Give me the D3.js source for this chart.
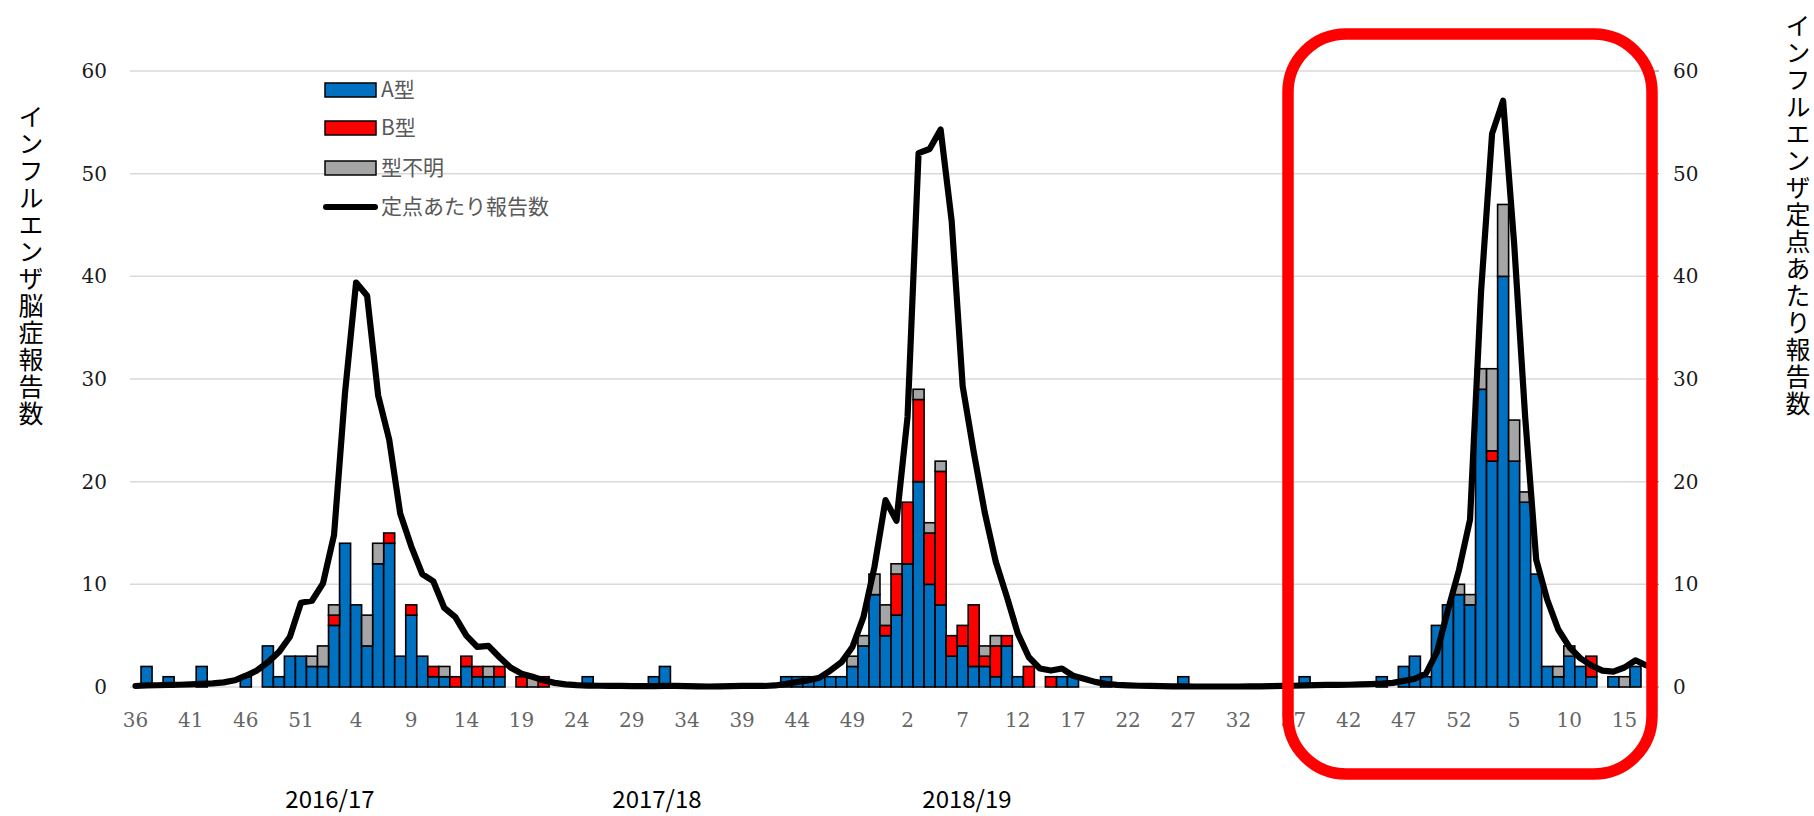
<!DOCTYPE html>
<html>
<head>
<meta charset="utf-8">
<script src="https://cdn.jsdelivr.net/npm/d3@7"></script>
<style>
  html, body { margin: 0; padding: 0; background: #fff; }
  svg { display: block; }
</style>
</head>
<body>
<svg id="chart" width="1814" height="816"></svg>
<script>
// week numbers, 2016 wk36 .. 2019 wk17
var weeks = [36,37,38,39,40,41,42,43,44,45,46,47,48,49,50,51,52,
  1,2,3,4,5,6,7,8,9,10,11,12,13,14,15,16,17,18,19,20,21,22,23,24,25,26,27,28,29,30,31,32,33,34,35,36,37,38,39,40,41,42,43,44,45,46,47,48,49,50,51,52,
  1,2,3,4,5,6,7,8,9,10,11,12,13,14,15,16,17,18,19,20,21,22,23,24,25,26,27,28,29,30,31,32,33,34,35,36,37,38,39,40,41,42,43,44,45,46,47,48,49,50,51,52,
  1,2,3,4,5,6,7,8,9,10,11,12,13,14,15,16,17];

// 脳症報告数 (left axis)
var typeA = [0,2,0,1,0,0,2,0,0,0,1,0,4,1,3,3,2,
  2,6,14,8,4,12,14,3,7,3,1,1,0,2,1,1,1,0,0,0,0,0,0,0,1,0,0,0,0,0,1,2,0,0,0,0,0,0,0,0,0,0,1,1,1,1,1,1,2,4,9,5,
  7,12,20,10,8,3,4,2,2,1,4,1,0,0,0,1,1,0,0,1,0,0,0,0,0,0,1,0,0,0,0,0,0,0,0,0,0,1,0,0,0,0,0,0,1,0,2,3,1,6,8,9,
  8,29,22,40,22,18,11,2,1,3,2,1,0,1,0,2,0];
var typeB = [0,0,0,0,0,0,0,0,0,0,0,0,0,0,0,0,0,
  0,1,0,0,0,0,1,0,1,0,1,0,1,1,1,0,1,0,1,0,1,0,0,0,0,0,0,0,0,0,0,0,0,0,0,0,0,0,0,0,0,0,0,0,0,0,0,0,0,0,0,1,
  4,6,8,5,13,2,2,6,1,3,1,0,2,0,1,0,0,0,0,0,0,0,0,0,0,0,0,0,0,0,0,0,0,0,0,0,0,0,0,0,0,0,0,0,0,0,0,0,0,0,0,0,
  0,0,1,0,0,0,0,0,0,0,0,2,0,0,0,0,0];
var typeUnknown = [0,0,0,0,0,0,0,0,0,0,0,0,0,0,0,0,1,
  2,1,0,0,3,2,0,0,0,0,0,1,0,0,0,1,0,0,0,1,0,0,0,0,0,0,0,0,0,0,0,0,0,0,0,0,0,0,0,0,0,0,0,0,0,0,0,0,1,1,2,2,
  1,0,1,1,1,0,0,0,1,1,0,0,0,0,0,0,0,0,0,0,0,0,0,0,0,0,0,0,0,0,0,0,0,0,0,0,0,0,0,0,0,0,0,0,0,0,0,0,0,0,0,1,
  1,2,8,7,4,1,0,0,1,1,0,0,0,0,1,0,0];

// 定点あたり報告数 (right axis)
var perSentinel = [0.1,0.15,0.17,0.2,0.22,0.25,0.3,0.35,0.45,0.65,1.1,1.6,2.4,3.4,4.9,8.2,8.4,
  10.1,14.8,28.7,39.4,38.1,28.4,24.1,16.9,13.7,11.0,10.3,7.7,6.8,5.0,3.9,4.0,2.9,1.9,1.3,1.0,0.65,0.4,0.25,0.18,0.14,0.12,0.1,0.1,0.08,0.08,0.08,0.1,0.1,0.08,0.06,0.05,0.06,0.08,0.1,0.1,0.1,0.15,0.3,0.5,0.65,0.9,1.6,2.4,3.9,6.8,11.7,18.2,
  16.2,26.3,52.0,52.4,54.3,45.4,29.3,22.9,17.0,12.2,8.8,5.2,2.9,1.8,1.6,1.8,1.1,0.8,0.5,0.3,0.2,0.15,0.12,0.1,0.08,0.07,0.06,0.05,0.05,0.05,0.05,0.05,0.06,0.07,0.08,0.1,0.12,0.15,0.18,0.2,0.2,0.22,0.25,0.28,0.32,0.4,0.6,0.8,1.3,3.4,7.5,11.4,
  16.3,38.5,53.9,57.1,43.2,26.3,12.4,8.5,5.6,3.9,2.8,2.1,1.6,1.5,1.9,2.6,2.1];

var yTicks = [0,10,20,30,40,50,60];
var seasonLabels = ["2016/17","2017/18","2018/19"];
var seasonX = [330,657,967];
var legendNames = ["A型","B型","型不明","定点あたり報告数"];
var colors = {A:"#0070C0", B:"#FF0000", U:"#A5A5A5"};

var svg = d3.select("#chart");
var plotLeft = 130, plotRight = 1652, plotTop = 71, plotBottom = 687;

var x = d3.scaleBand().domain(d3.range(weeks.length)).range([plotLeft, plotRight]).padding(0);
var y = d3.scaleLinear().domain([0,60]).range([plotBottom, plotTop]);
var y2 = d3.scaleLinear().domain([0,60]).range([plotBottom, plotTop]);

// gridlines
svg.append("g").selectAll("line").data(yTicks).join("line")
  .attr("x1", plotLeft).attr("x2", plotRight)
  .attr("y1", function(d){ return y(d); }).attr("y2", function(d){ return y(d); })
  .attr("stroke", "#d9d9d9").attr("stroke-width", 1.5);

// right axis tick marks
svg.append("g").selectAll("line").data(yTicks).join("line")
  .attr("x1", plotRight).attr("x2", plotRight+7)
  .attr("y1", function(d){ return y2(d); }).attr("y2", function(d){ return y2(d); })
  .attr("stroke", "#8c8c8c").attr("stroke-width", 1.2);

// stacked bars
var rows = weeks.map(function(w, i){ return {i:i, A:typeA[i], B:typeB[i], U:typeUnknown[i]}; });
var stack = d3.stack().keys(["A","B","U"])(rows);
svg.append("g").selectAll("g").data(stack).join("g")
  .attr("fill", function(s){ return colors[s.key]; })
  .selectAll("rect").data(function(s){ return s.filter(function(d){ return d[1] > d[0]; }); }).join("rect")
  .attr("x", function(d){ return x(d.data.i); })
  .attr("width", x.bandwidth())
  .attr("y", function(d){ return y(d[1]); })
  .attr("height", function(d){ return y(d[0]) - y(d[1]); })
  .attr("stroke", "#000").attr("stroke-width", 1.6);

// per sentinel line
var line = d3.line()
  .x(function(d, i){ return x(i) + x.bandwidth()/2; })
  .y(function(d){ return y2(d); });
svg.append("path").datum(perSentinel)
  .attr("d", line)
  .attr("fill", "none").attr("stroke", "#000").attr("stroke-width", 6.2)
  .attr("stroke-linejoin", "round").attr("stroke-linecap", "round");

// axis labels
svg.append("g").selectAll("text").data(yTicks).join("text")
  .attr("x", 107).attr("y", function(d){ return y(d); })
  .attr("dy", "0.35em").attr("text-anchor", "end")
  .attr("font-family", "DejaVu Serif").attr("font-size", 20).attr("fill", "#1a1a1a")
  .text(function(d){ return d; });
svg.append("g").selectAll("text").data(yTicks).join("text")
  .attr("x", 1673).attr("y", function(d){ return y2(d); })
  .attr("dy", "0.35em").attr("text-anchor", "start")
  .attr("font-family", "DejaVu Serif").attr("font-size", 20).attr("fill", "#1a1a1a")
  .text(function(d){ return d; });

var xIdx = d3.range(0, weeks.length, 5);
svg.append("g").selectAll("text").data(xIdx).join("text")
  .attr("x", function(i){ return x(i) + x.bandwidth()/2; })
  .attr("y", 720).attr("dy", "0.35em").attr("text-anchor", "middle")
  .attr("font-family", "DejaVu Serif").attr("font-size", 20).attr("fill", "#666")
  .text(function(i){ return weeks[i]; });

// season labels
svg.append("g").selectAll("text").data(seasonLabels).join("text")
  .attr("x", function(d, i){ return seasonX[i]; })
  .attr("y", 800).attr("dy", "0.35em").attr("text-anchor", "middle")
  .attr("font-family", "Noto Sans CJK JP").attr("font-size", 24).attr("fill", "#000")
  .text(function(d){ return d; });

// vertical titles
function vtitle(str, cx, yTop) {
  svg.append("text")
    .attr("x", cx).attr("y", yTop)
    .style("writing-mode", "vertical-rl")
    .attr("letter-spacing", 2)
    .attr("font-family", "Noto Sans CJK JP").attr("font-size", 25).attr("fill", "#000")
    .text(str);
}
vtitle("インフルエンザ脳症報告数", 31, 104);
vtitle("インフルエンザ定点あたり報告数", 1798, 13);

// legend
var lg = svg.append("g");
var legendY = [90, 128, 168, 207];
var legendFill = [colors.A, colors.B, colors.U];
legendNames.forEach(function(name, i){
  if (i < 3) {
    lg.append("rect").attr("x", 325).attr("y", legendY[i]-7).attr("width", 51).attr("height", 14)
      .attr("fill", legendFill[i]).attr("stroke", "#000").attr("stroke-width", 1.5);
  } else {
    lg.append("line").attr("x1", 326).attr("x2", 375).attr("y1", legendY[i]).attr("y2", legendY[i])
      .attr("stroke", "#000").attr("stroke-width", 6).attr("stroke-linecap", "round");
  }
  lg.append("text").attr("x", 381).attr("y", legendY[i]).attr("dy", "0.35em")
    .attr("font-family", "Noto Sans CJK JP").attr("font-size", 21).attr("fill", "#595959")
    .text(name);
});

// red highlight box
svg.append("rect")
  .attr("x", 1288).attr("y", 34).attr("width", 1652-1288).attr("height", 774-34)
  .attr("rx", 58).attr("ry", 58)
  .attr("fill", "none").attr("stroke", "#FF0000").attr("stroke-width", 11.5);
</script>
</body>
</html>
